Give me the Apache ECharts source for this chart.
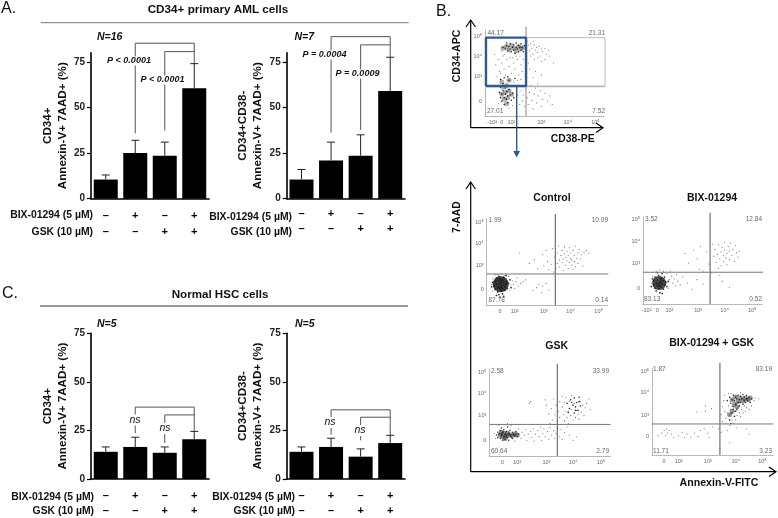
<!DOCTYPE html>
<html><head><meta charset="utf-8">
<style>html,body{margin:0;padding:0;background:#fff}#c{width:778px;height:518px}</style>
<script src="https://cdn.jsdelivr.net/npm/echarts@6/dist/echarts.min.js"></script>
</head><body><div id="c"></div>
<script>
// ---------- bar panel data ----------
const bixRow = ['–','+','–','+'];
const gskRow = ['–','–','+','+'];
const aLeftMean = [10.5,25,23.5,60.5];
const aLeftTop  = [13,32,31,74];
const aRightMean = [10.5,21,23.5,59];
const aRightTop  = [16,31,35,77.5];
const cLeftMean = [14,16.5,13.5,20.5];
const cLeftTop  = [16.5,21.5,16.5,24.5];
const cRightMean = [14,16.5,11.5,18.5];
const cRightTop  = [16.5,21,15.5,22.5];
const yTicks = [0,25,50,75];
// brackets: [category index, value]
const aLeftBr1 = [[1,35.8],[1,85.2],[3,85.2],[3,74]];
const aLeftBr2 = [[2,37.3],[2,80.6],[3,80.6]];
const aRightBr1 = [[1,36.2],[1,88.8],[3,88.8],[3,77.5]];
const aRightBr2 = [[2,37.7],[2,84.3],[3,84.3]];
const cLeftBr1 = [[1,23.6],[1,37],[3,37],[3,24.5]];
const cLeftBr2 = [[2,18.5],[2,33],[3,33]];
const cRightBr1 = [[1,22.8],[1,35.6],[3,35.6],[3,22.5]];
const cRightBr2 = [[2,19.9],[2,31.8],[3,31.8]];

// ---------- flow plot data (display units, percent of the plot box) ----------
const gateDense = [[15,79],[18,81],[20,77],[22,82],[24,79],[26,76],[28,81],[30,78],[32,80],[14,26],[15,34],[16,20],[17,28],[18,36],[19,22],[20,30],[18,15],[22,26],[14,40],[20,42]];
const gateCore = [[15,80],[17,78],[18,82],[19,76],[20,81],[21,84],[21,78],[22,75],[23,80],[24,83],[24,77],[25,73],[26,80],[26,85],[27,78],[28,82],[28,75],[29,80],[30,84],[30,77],[31,80],[32,75],[33,82],[18,85],
 [12,28],[13,22],[13,34],[14,18],[14,26],[15,30],[15,38],[16,22],[16,14],[17,26],[17,33],[18,20],[18,29],[19,24],[19,16],[20,31],[20,42],[21,25],[22,19],[22,36],[23,27],[24,22],[25,44],[13,43],[16,45],[19,46]];
const gateSparse = [[36,82],[37,76],[38,84],[39,79],[40,72],[41,83],[42,77],[43,80],[44,74],[45,81],[46,70],[47,78],[48,75],[50,79],[51,72],[53,77],[38,70],[41,66],[44,68],[47,64],[50,66],[36,62],[34,74],[35,87],[40,87],[54,70],[57,62],[37,55],[42,52],[40,45],[47,48],[44,38],
 [8,72],[9,60],[11,66],[12,52],[14,62],[15,70],[16,55],[18,66],[20,58],[21,68],[22,50],[24,62],[25,55],[27,66],[28,48],[30,60],[31,52],[10,46],[13,50],[17,48],[14,75],[16,72],[23,68],[26,70],[29,70],[32,66],
 [30,30],[31,18],[32,25],[33,12],[34,32],[35,22],[36,14],[37,28],[38,36],[39,19],[40,9],[41,26],[42,33],[43,16],[44,24],[46,30],[47,12],[48,20],[50,27],[52,18],[54,24],[56,14],[28,36],[29,14],[26,10],[27,25],[24,40],[27,42],[30,43],[34,42],[11,15],[20,10],[23,13]];
const ctrlDense = [[11.5,24]];
const ctrlCore = [[6,22],[7,27],[7,18],[8,24],[8,31],[9,20],[9,15],[9,28],[10,24],[10,33],[10,12],[11,19],[11,27],[11,30],[12,22],[12,16],[12,25],[13,29],[13,19],[13,13],[14,23],[14,32],[14,26],[15,17],[15,21],[16,27],[16,24],[17,19],[18,25],[10,21],[12,28],[12,20],[4,21],[5,26],[19,29],[20,20],[11,9],[14,10],[8,11],[16,34]];
const ctrlSparse = [[4,24],[5,16],[5,30],[7,35],[9,35],[12,36],[15,34],[18,33],[19,17],[20,23],[21,28],[22,24],[23,19],[24,27],[25,31],[26,22],[28,25],[30,27],[32,29],[38,17],[41,20],[43,24],[45,14],[46,22],[49,25],[51,17],[27,60],[35,48],[39,52],[42,42],[46,58],[47,45],[49,63],[50,50],[51,41],[53,47],[54,65],[55,38],[56,55],
 [57,42],[58,48],[58,60],[59,68],[60,52],[60,44],[61,57],[62,63],[62,49],[63,40],[63,53],[64,67],[64,59],[65,46],[65,55],[66,51],[66,62],[67,42],[67,57],[68,66],[68,49],[69,54],[69,60],[70,46],[70,52],[71,63],[71,41],[72,57],[72,50],[73,68],[73,44],[74,54],[75,60],[75,48],[76,64],[77,53],[78,58],[79,45],[80,61],[82,63],[84,60]];
const bixDense = [[13.5,24]];
const bixCore = [[9,22],[9,27],[10,18],[10,31],[11,24],[11,15],[12,28],[12,21],[13,33],[13,18],[14,25],[14,13],[15,29],[15,20],[16,23],[16,35],[17,17],[17,27],[18,22],[18,31],[19,25],[13,23],[14,21],[15,26],[7,20],[8,29],[12,36],[20,20],[21,26],[16,12]];
const bixSparse = [[7,24],[8,32],[11,38],[14,39],[17,38],[20,35],[21,18],[22,28],[23,38],[24,32],[25,24],[26,29],[27,21],[28,34],[29,26],[31,22],[33,31],[37,24],[41,17],[45,28],[50,23],[35,58],[38,47],[42,62],[45,52],[47,40],[48,66],[50,38],[53,60],[55,46],[57,36],[58,69],
 [59,55],[60,63],[61,48],[62,57],[63,41],[63,68],[64,52],[65,60],[65,44],[66,65],[67,56],[67,49],[68,62],[68,71],[69,53],[70,58],[70,45],[71,66],[72,61],[72,51],[73,70],[74,56],[75,63],[76,49],[77,67],[78,59],[79,54],[80,61],[64,33],[72,19],[66,26]];
const gskDense = [[9,24],[11,22],[12,26],[14,23],[15,26],[17,24],[19,23],[21,25],[13,20],[10,27],[23,24]];
const gskCore = [[6,24],[7,21],[7,27],[8,25],[9,20],[9,29],[10,24],[10,32],[11,18],[11,27],[12,22],[12,30],[13,25],[13,19],[14,28],[14,23],[15,21],[15,33],[16,26],[16,18],[17,24],[17,29],[18,22],[19,27],[19,20],[20,25],[21,23],[22,28],[23,22],[24,25],
 [64,60],[66,54],[67,64],[69,58],[70,49],[70,66],[71,56],[72,61],[73,52],[74,67],[75,57],[65,50],[68,61],[71,52],[74,62]];
const gskSparse = [[4,26],[5,20],[8,35],[12,36],[15,37],[18,35],[21,17],[24,31],[26,20],[27,27],[29,24],[30,30],[31,18],[32,25],[34,28],[35,21],[36,31],[37,17],[38,25],[40,29],[41,22],[42,33],[43,18],[44,26],[45,31],[46,22],[48,28],[49,19],[50,33],[51,24],[53,29],[54,20],[55,26],[56,32],[58,22],[59,30],[60,19],[62,27],[64,33],[66,24],[69,18],[72,22],
 [33,60],[34,62],[46,64],[47,58],[49,48],[50,37],[51,54],[52,41],[53,65],[54,47],[55,58],[56,39],[57,51],[58,44],[58,62],[59,36],[60,56],[60,68],[61,47],[62,40],[62,61],[63,51],[63,67],[64,44],[65,37],[65,49],[66,62],[67,46],[68,53],[68,69],[69,41],[70,60],[71,44],[72,52],[73,47],[74,42],[75,62],[76,50],[77,58],[78,46],[79,55],[80,60],[82,65],[83,53]];
const comboDense = [[66,63],[69,66],[71,61],[73,65],[75,62],[77,65],[79,63],[81,65],[68,58],[70,55],[66,50],[64,46]];
const comboCore = [[62,62],[64,66],[65,59],[66,63],[67,68],[67,55],[68,62],[69,66],[69,58],[70,64],[70,52],[71,68],[71,60],[72,63],[72,56],[73,67],[73,60],[74,64],[75,69],[75,58],[76,62],[76,66],[77,60],[78,64],[78,68],[79,62],[80,66],[81,60],[82,64],[66,48],[68,44],[64,40],[67,52],[65,36],[69,50]];
const comboSparse = [[44,56],[44,50],[49,53],[37,49],[5,22],[8,25],[10,28],[11,22],[12,30],[13,25],[14,28],[16,24],[18,20],[22,22],[25,26],[27,20],[29,24],[32,20],[35,25],[38,21],[40,28],[43,30],[46,25],[47,20],[50,32],[55,30],[57,26],[62,28],[70,31],[78,30],[80,24],[64,14],[56,8],
 [57,46],[58,55],[58,38],[59,62],[60,50],[60,68],[61,42],[61,36],[62,48],[63,56],[63,70],[64,34],[64,46],[65,52],[65,70],[66,40],[66,56],[67,36],[68,50],[69,40],[70,45],[71,54],[72,48],[73,44],[73,71],[74,52],[75,48],[76,56],[77,50],[78,54],[80,52],[82,56],[84,62],[85,65],[88,64]];
const flowXLabelsB = [[11,'0'],[23,'10²'],[47,'10³'],[69,'10⁴'],[92,'10⁵']];

// ---------- layout helpers ----------
const font = '"Liberation Sans", Arial, sans-serif';
const grids=[], xAxes=[], yAxes=[], series=[], gfx=[];
function txt(x,y,text,o={}){
  gfx.push({type:'text',x,y,rotation:o.rot||0,z:o.z||50,style:{text,fill:o.fill||'#111',
    font:(o.style||'')+' '+(o.weight||'normal')+' '+(o.size||10)+'px '+font,
    align:o.align||'center',verticalAlign:'middle',
    backgroundColor:o.bg||null,padding:o.bg?[0,1]:0}});
}
function seg(x1,y1,x2,y2,color,w){gfx.push({type:'line',z:40,shape:{x1,y1,x2,y2},style:{stroke:color,lineWidth:w}});}
function chev(pts,color,w){gfx.push({type:'polyline',z:40,shape:{points:pts},style:{stroke:color,lineWidth:w,fill:null}});}

function barPanel(left,width,top,height,ymax,mean,tops,br1,br2,yName,nameGap,rowH,rowM){
  const i=grids.length;
  grids.push({left,top,width,height});
  xAxes.push({gridIndex:i,type:'category',data:bixRow.map((b,k)=>b+'\n'+gskRow[k]),
    axisLine:{lineStyle:{color:'#000',width:1.6}},
    axisTick:{alignWithLabel:true,length:4,lineStyle:{color:'#000',width:1.2}},
    axisLabel:{color:'#000',fontFamily:font,fontWeight:'bold',fontSize:11,lineHeight:rowH,margin:rowM,interval:0}});
  yAxes.push({gridIndex:i,type:'value',min:0,max:ymax,splitLine:{show:false},
    name:yName,nameLocation:'middle',nameRotate:90,nameGap,
    nameTextStyle:{color:'#111',fontFamily:font,fontWeight:'bold',fontSize:11.6,lineHeight:15},
    axisLine:{show:true,lineStyle:{color:'#000',width:1.6}},
    axisTick:{show:true,length:4,customValues:yTicks,lineStyle:{color:'#000',width:1.2}},
    axisLabel:{color:'#222',fontFamily:font,fontWeight:'bold',fontSize:10,margin:6,customValues:yTicks}});
  series.push({type:'bar',xAxisIndex:i,yAxisIndex:i,data:mean,barWidth:24,itemStyle:{color:'#000'},silent:true});
  series.push({type:'custom',xAxisIndex:i,yAxisIndex:i,clip:false,silent:true,z:3,
    encode:{x:0,y:1},data:mean.map((m,k)=>[k,m,tops[k]]),
    renderItem(p,api){
      const a=api.coord([api.value(0),api.value(1)]),b=api.coord([api.value(0),api.value(2)]);
      const st={stroke:'#222',lineWidth:1};
      return {type:'group',children:[
        {type:'line',shape:{x1:a[0],y1:a[1],x2:b[0],y2:b[1]},style:st},
        {type:'line',shape:{x1:b[0]-4,y1:b[1],x2:b[0]+4,y2:b[1]},style:st}]};
    }});
  [br1,br2].forEach(d=>series.push({type:'line',xAxisIndex:i,yAxisIndex:i,data:d,clip:false,silent:true,symbol:'none',z:1,
    lineStyle:{color:'#555',width:1}}));
}
function flowPanel(left,top,width,height,xT,yT,groups,lines){
  const i=grids.length;
  grids.push({left,top,width,height});
  const lab=(t)=>v=>{const f=t.find(e=>e[0]===v);return f?f[1]:'';};
  const ax={min:0,max:100,splitLine:{show:false},
    axisLine:{show:true,lineStyle:{color:'#aaa',width:1,type:'dotted'}},
    axisTick:{show:false}};
  const ls=c=>({color:'#666',fontFamily:font,fontSize:5.5,margin:3,customValues:c.map(e=>e[0]),formatter:lab(c)});
  xAxes.push({gridIndex:i,type:'value',...ax,axisLabel:ls(xT)});
  yAxes.push({gridIndex:i,type:'value',...ax,axisLabel:ls(yT)});
  groups.forEach(g=>series.push({type:'scatter',xAxisIndex:i,yAxisIndex:i,data:g[0],symbolSize:g[1],silent:true,
    itemStyle:{color:g[2],opacity:g[3]}}));
  lines.forEach(l=>series.push({type:'line',xAxisIndex:i,yAxisIndex:i,data:l[0],symbol:'none',clip:false,silent:true,z:3,
    lineStyle:{color:l[1],width:l[2]}}));
}

// ---------- panels A and C ----------
const y1='CD34+\nAnnexin-V+ 7AAD+ (%)', y2='CD34+CD38-\nAnnexin-V+ 7AAD+ (%)';
barPanel(91,118,52.7,146,80,aLeftMean,aLeftTop,aLeftBr1,aLeftBr2,y1,19,16,9);
barPanel(286.7,118.3,52.7,146,80,aRightMean,aRightTop,aRightBr1,aRightBr2,y2,16,15,8);
barPanel(91,118,333.3,146,75,cLeftMean,cLeftTop,cLeftBr1,cLeftBr2,y1,19,14.5,10);
barPanel(286.7,118.3,333.3,146,75,cRightMean,cRightTop,cRightBr1,cRightBr2,y2,20,14.5,10);

// ---------- panel B ----------
const tc=[[18,'0'],[46,'10³'],[71,'10⁴'],[95,'10⁵']];
flowPanel(485,30,120,86.7,[[6,'-10²'],[14,'0'],[22,'10²'],[47,'10³'],[69,'10⁴'],[92,'10⁵']],
  [[17,'0'],[46,'10³'],[70,'10⁴'],[93,'10⁵']],
  [[gateDense,5,'#333',.4],[gateCore,1.6,'#111',.9],[gateSparse,1.1,'#333',.75]],
  [[[[34.2,35.4],[100,35.4],[100,91.2],[34.2,91.2]],'#bbb',1],
   [[[0,34.6],[100,34.6]],'#aaa',1],
   [[[34.2,0.8],[34.2,103.8]],'#888',1],
   [[[0.8,35.4],[34.2,35.4],[34.2,91.2],[0.8,91.2],[0.8,35.4]],'#2f5a8c',2.4]]);
flowPanel(486.7,218.3,121.6,86.7,flowXLabelsB,tc,
  [[ctrlDense,16,'#1a1a1a',.85],[ctrlCore,1.8,'#111',.85],[ctrlSparse,1.1,'#333',.75]],
  [[[[56.4,0],[56.4,105]],'#555',1],[[[0,35.8],[100,35.8]],'#777',1]]);
flowPanel(643,217,120,87,[[3,'-10²'],[12,'0'],[22,'10²'],[46,'10³'],[68,'10⁴'],[91,'10⁵']],
  [[18,'0'],[47,'10³'],[72,'10⁴'],[97,'10⁵']],
  [[bixDense,14,'#1a1a1a',.8],[bixCore,1.8,'#111',.85],[bixSparse,1.1,'#333',.75]],
  [[[[55.9,0],[55.9,105]],'#555',1],[[[0,36.5],[100,36.5]],'#777',1]]);
flowPanel(489.3,368.3,121.4,87.7,[[11,'0'],[23,'10²'],[47,'10³'],[69,'10⁴'],[92,'10⁵']],
  [[18,'0'],[46,'10³'],[71,'10⁴'],[95,'10⁵']],
  [[gskDense,5,'#222',.5],[gskCore,1.6,'#111',.85],[gskSparse,1.1,'#333',.75]],
  [[[[56,0],[56,105]],'#555',1],[[[0,36],[100,36]],'#777',1]]);
flowPanel(652,367.3,121.3,87.7,[[10,'0'],[22,'10²'],[46,'10³'],[69,'10⁴'],[91,'10⁵']],
  [[21,'0'],[45,'10³'],[71,'10⁴'],[95,'10⁵']],
  [[comboDense,5,'#222',.45],[comboCore,1.6,'#111',.85],[comboSparse,1.1,'#333',.75]],
  [[[[56,0],[56,105]],'#555',1],[[[0,35.4],[100,35.4]],'#777',1]]);

// ---------- text and annotations ----------
txt(1,9,'A.',{align:'left',size:16});
txt(2,294,'C.',{align:'left',size:16});
txt(436,12,'B.',{align:'left',size:16});
txt(218,10,'CD34+ primary AML cells',{weight:'bold',size:11.7});
txt(220,295,'Normal HSC cells',{weight:'bold',size:11.6});
seg(40.7,22.7,408.7,22.7,'#777',1);
seg(40,306,408,306,'#333',1);
[[97,36.7,'N=16'],[294.5,36.7,'N=7'],[97,324,'N=5'],[295,324,'N=5']].forEach(a=>txt(a[0],a[1],a[2],{align:'left',weight:'bold',style:'italic',size:10.5}));
[[129,61,'P < 0.0001'],[162.5,80,'P < 0.0001'],[324.5,55,'P = 0.0004'],[357.5,74,'P = 0.0009']].forEach(a=>txt(a[0],a[1],a[2],{weight:'bold',style:'italic',size:9,bg:'#fff'}));
[[135,420],[165,428.5],[330,422.5],[360,430.5]].forEach(a=>txt(a[0],a[1],'ns',{style:'italic',size:10.5,bg:'#fff'}));
[[93,215,231.7],[292,217,232.5],[94,497,511],[295,497,511]].forEach(a=>{
  txt(a[0],a[1],'BIX-01294 (5 µM)',{align:'right',weight:'bold',size:10.4});
  txt(a[0],a[2],'GSK (10 µM)',{align:'right',weight:'bold',size:10.4});
});
// flow axes
seg(470.7,21,470.7,127.7,'#000',1.2); seg(470.7,127.7,602,127.7,'#000',1.2);
chev([[466,27],[470.7,20],[475.4,27]],'#000',1.2); chev([[596,123],[603,127.7],[596,132.4]],'#000',1.2);
seg(470.7,183,470.7,471.7,'#000',1.2); seg(470.7,471.7,775,471.7,'#000',1.2);
chev([[466,189],[470.7,182],[475.4,189]],'#000',1.2); chev([[769,467],[776,471.7],[769,476.4]],'#000',1.2);
txt(457,56,'CD34-APC',{rot:Math.PI/2,weight:'bold',size:10.5});
txt(572.7,139,'CD38-PE',{weight:'bold',size:10.4});
txt(457,217,'7-AAD',{rot:Math.PI/2,weight:'bold',size:10.4});
txt(719,483,'Annexin-V-FITC',{weight:'bold',size:10.6});
txt(552,197.7,'Control',{weight:'bold',size:10.5});
txt(712,197.7,'BIX-01294',{weight:'bold',size:10.5});
txt(556.7,346,'GSK',{weight:'bold',size:10.5});
txt(711.7,342.7,'BIX-01294 + GSK',{weight:'bold',size:10.5});
// gating arrow
seg(516.7,86,516.7,152,'#2f5a8c',1.4);
gfx.push({type:'polygon',z:41,shape:{points:[[513.3,151],[520,151],[516.7,157.5]]},style:{fill:'#2f5a8c'}});
// quadrant values
const q=[[487.5,33,'44.17','left'],[605,33,'21.31','right'],[487,111.5,'27.01','left'],[605,111.5,'7.52','right'],
 [488.5,220.5,'1.99','left'],[608,220.5,'10.09','right'],[488.5,300,'87.78','left'],[608,300,'0.14','right'],
 [645,219,'3.52','left'],[762,219,'12.84','right'],[644,299,'83.13','left'],[762,299,'0.52','right'],
 [491,371,'2.58','left'],[609,371,'33.99','right'],[491,451.5,'60.64','left'],[609,451.5,'2.79','right'],
 [653,369.5,'1.87','left'],[772,369.5,'83.19','right'],[653,451,'11.71','left'],[772,451,'3.23','right']];
q.forEach(a=>txt(a[0],a[1],a[2],{align:a[3],size:6.5,fill:'#666'}));

const chart=echarts.init(document.getElementById('c'),null,{renderer:'canvas'});
chart.setOption({animation:false,backgroundColor:'#fff',tooltip:{show:false},legend:{show:false},
  grid:grids,xAxis:xAxes,yAxis:yAxes,series,graphic:{elements:gfx}});
</script></body></html>
